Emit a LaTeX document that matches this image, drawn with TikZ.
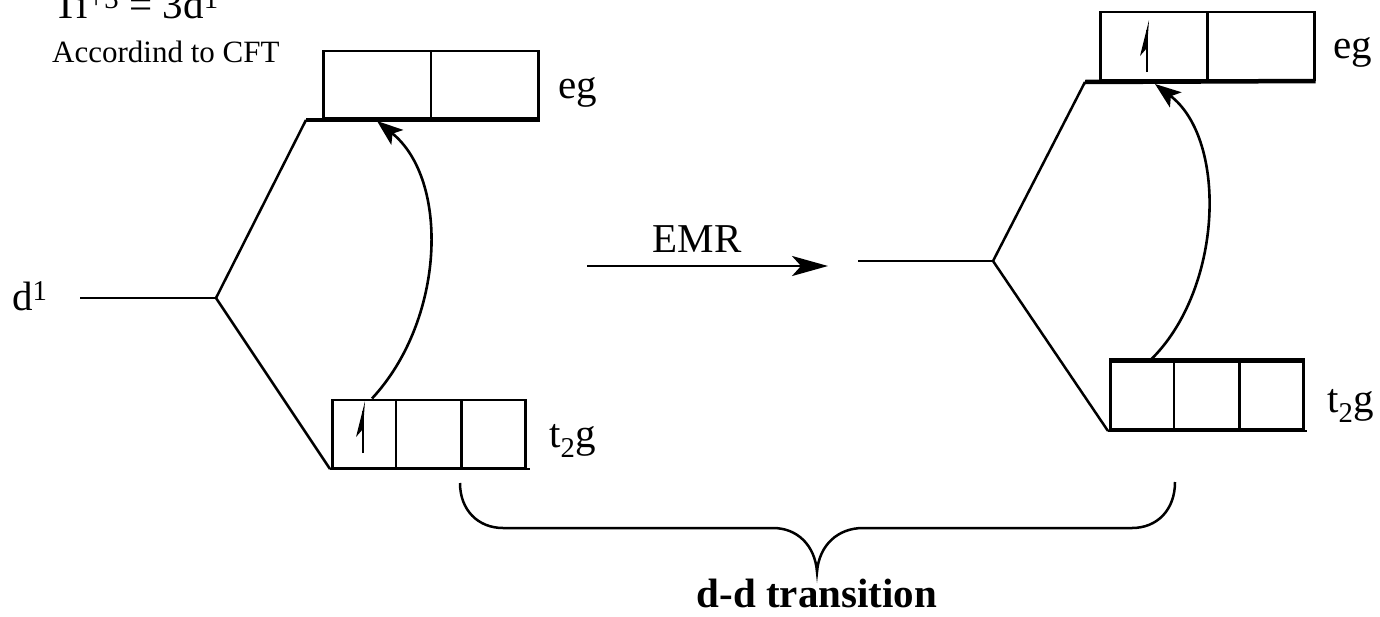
\documentclass[tikz,border=0pt]{standalone}
\usepackage{fontspec}
\setmainfont{Liberation Serif}
\usetikzlibrary{arrows.meta,calc}
\begin{document}
\begin{tikzpicture}[x=1pt,y=-1pt,
  lbl/.style={inner sep=0pt, font=\fontsize{41}{48}\selectfont},
  small/.style={inner sep=0pt, font=\fontsize{31}{36}\selectfont},
  boldlbl/.style={inner sep=0pt, font=\fontsize{41}{48}\selectfont\bfseries},
  box/.style={draw, line width=2.5pt, inner sep=0pt, anchor=south west},
  ln/.style={line width=2.5pt},
  bar/.style={line width=4.5pt},
  excite/.style={line width=2.6pt, -{Stealth[length=26pt,width=19pt,inset=6pt]}},
  emr/.style={line width=2.6pt, -{Stealth[length=36pt,width=20pt,inset=9pt]}},
  spinarrow/.pic={
    \draw[line width=2.5pt] (0,0) -- (0,-42);
    \fill (2,-52) -- (-7,-16) -- (0,-24) -- cycle;
  }
]
\useasboundingbox (0,0) rectangle (1380,616);
\clip (0,0) rectangle (1380,616);

% headings
\node[lbl, anchor=base west] (ti) at (53,18) {Ti\textsuperscript{+3} = 3d\textsuperscript{1}};
\node[small, anchor=base west] (cft) at (52,62) {Accordind to CFT};

% ---------- left diagram ----------
\node[lbl, anchor=base west] (d1) at (12,310) {d\textsuperscript{1}};
\coordinate (lvlL) at (80,298);
\coordinate (splitL) at (216,298);
\node[box, minimum width=215pt, minimum height=67pt] (egL) at (322,119) {};
\node[box, minimum width=193pt, minimum height=68pt] (t2gL) at (331,469) {};
\draw[ln] (egL.south) -- (egL.north);
\draw[ln] ($(t2gL.south west)!1/3!(t2gL.south east)$) -- ($(t2gL.north west)!1/3!(t2gL.north east)$);
\draw[ln] ($(t2gL.south west)!2/3!(t2gL.south east)$) -- ($(t2gL.north west)!2/3!(t2gL.north east)$);
\coordinate (egLa) at (306,120);
\coordinate (t2gLa) at (330,469);
\draw[bar] (egLa) -- (540,120);
\draw[ln] (t2gLa) -- (530,469);
\draw[ln] (lvlL) -- (splitL);
\draw[ln] (splitL) -- (egLa);
\draw[ln] (splitL) -- (t2gLa);
\node[lbl, anchor=base west] (egLl) at (558,98) {eg};
\node[lbl, anchor=base west] (t2gLl) at (549,447) {t\textsubscript{2}g};
\pic at (363,453) {spinarrow};
\coordinate (exLs) at ($(t2gL.north west)+(41,0)$);
\coordinate (exLe) at ($(egL.south west)+(55,2)$);
\draw[excite] (exLs) .. controls (445,320) and (450,180) .. (exLe);

% ---------- EMR ----------
\coordinate (emrS) at (587,266);
\coordinate (emrE) at (828,266);
\draw[emr] (emrS) -- (emrE);
\node[lbl, anchor=base] (emrl) at (697,252) {EMR};

% ---------- right diagram ----------
\coordinate (lvlR) at (858,261);
\coordinate (splitR) at (993,261);
\node[box, minimum width=214pt, minimum height=68pt] (egR) at (1099,81) {};
\node[box, minimum width=193pt, minimum height=67pt] (t2gR) at (1109,430) {};
\draw[ln] (egR.south) -- (egR.north);
\draw[ln] ($(t2gR.south west)!1/3!(t2gR.south east)$) -- ($(t2gR.north west)!1/3!(t2gR.north east)$);
\draw[ln] ($(t2gR.south west)!2/3!(t2gR.south east)$) -- ($(t2gR.north west)!2/3!(t2gR.north east)$);
\coordinate (egRa) at (1085,82);
\coordinate (t2gRa) at (1108,431);
\draw[bar] (egRa) -- (egR.south east);
\draw[bar] (t2gR.north west) -- (t2gR.north east);
\draw[ln] (t2gRa) -- (1307,431);
\draw[ln] (lvlR) -- (splitR);
\draw[ln] (splitR) -- (egRa);
\draw[ln] (splitR) -- (t2gRa);
\node[lbl, anchor=base west] (egRl) at (1333,58) {eg};
\node[lbl, anchor=base west] (t2gRl) at (1327,412) {t\textsubscript{2}g};
\pic at (1147,72) {spinarrow};
\coordinate (exRs) at ($(t2gR.north west)+(41,0)$);
\coordinate (exRe) at ($(egR.south west)+(56,3)$);
\draw[excite] (exRs) .. controls (1223,290) and (1228,140) .. (exRe);

% ---------- brace ----------
\coordinate (brL) at (460,483);
\coordinate (brR) at (1175,482);
\coordinate (brTip) at (817,572);
\draw[ln] (brL) .. controls (460,510) and (478,528) .. (503,528) -- (773,528)
  .. controls (797,528) and (815,545) .. (brTip)
  .. controls (819,545) and (838,528) .. (863,528) -- (1132,528)
  .. controls (1157,528) and (1175,510) .. (brR);
\node[boldlbl, anchor=base] (dd) at (817,607) {d-d transition};
\end{tikzpicture}
\end{document}
